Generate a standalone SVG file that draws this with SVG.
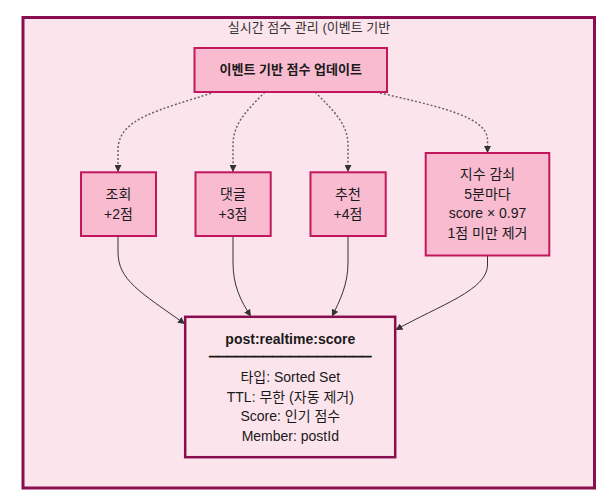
<svg xmlns="http://www.w3.org/2000/svg" width="616" height="502" viewBox="0 0 616 502">
<defs>
<marker id="arr" viewBox="0 0 10 10" refX="10" refY="5" markerWidth="7" markerHeight="7" markerUnits="userSpaceOnUse" orient="auto">
<path d="M0,0 L10,5 L0,10 z" fill="#333"/>
</marker>
<style>
.t{font-family:"Liberation Sans","Noto Sans CJK KR",sans-serif;font-size:14px;fill:#1a1a1a;text-anchor:middle}
.b{font-weight:bold}
.n{fill:#f8bbd0;stroke:#c2185b;stroke-width:2}
.d{fill:none;stroke:#666;stroke-width:1.5;stroke-dasharray:2 2}
.s{fill:none;stroke:#333;stroke-width:1}
</style>
</defs>
<rect width="616" height="502" fill="#fff"/>
<g id="frame">
<rect x="23" y="17.5" width="571.5" height="470.5" fill="#fce4ec" stroke="#880e4f" stroke-width="3"/>
<text class="t" x="309" y="32" style="fill:#333;font-size:13px">실시간 점수 관리 (이벤트 기반</text>
</g>
<g id="connectors">
<path class="d" d="M215,92 C160,110 118,118 118,150 L118,172" marker-end="url(#arr)"/>
<path class="d" d="M265,92 C245,112 233,125 233,145 L233,172" marker-end="url(#arr)"/>
<path class="d" d="M315,92 C335,112 348,125 348,145 L348,172" marker-end="url(#arr)"/>
<path class="d" d="M376,92 C430,105 487.5,115 487.5,140 L487.5,153" marker-end="url(#arr)"/>
<path class="s" d="M118,236 L118,252 C118,280 140,292 185,324" marker-end="url(#arr)"/>
<path class="s" d="M233,236 L233,262 C233,285 240,300 251,316.5" marker-end="url(#arr)"/>
<path class="s" d="M348,236 L348,262 C348,285 340,300 332,316.5" marker-end="url(#arr)"/>
<path class="s" d="M487.5,256 L487.5,265 C487.5,290 440,305 395.5,330" marker-end="url(#arr)"/>
</g>
<g id="event">
<rect class="n" x="194.5" y="48" width="192.5" height="44"/>
<text class="t b" x="290.7" y="74" style="font-size:13px">이벤트 기반 점수 업데이트</text>
</g>
<g id="view">
<rect class="n" x="81" y="172.3" width="75" height="63.7"/>
<text class="t" x="118.5" y="199">조회</text>
<text class="t" x="118.5" y="219">+2점</text>
</g>
<g id="comment">
<rect class="n" x="195.5" y="172.3" width="75.2" height="63.7"/>
<text class="t" x="233" y="199">댓글</text>
<text class="t" x="233" y="219">+3점</text>
</g>
<g id="like">
<rect class="n" x="310.5" y="172.3" width="75.2" height="63.7"/>
<text class="t" x="348" y="199">추천</text>
<text class="t" x="348" y="219">+4점</text>
</g>
<g id="decay">
<rect class="n" x="425.7" y="153" width="123.6" height="102.5"/>
<text class="t" x="487.5" y="179">지수 감쇠</text>
<text class="t" x="487.5" y="198.7">5분마다</text>
<text class="t" x="487.5" y="218.4">score × 0.97</text>
<text class="t" x="487.5" y="238">1점 미만 제거</text>
</g>
<g id="redis">
<rect x="185.2" y="316.8" width="210" height="140.4" fill="#fce4ec" stroke="#880e4f" stroke-width="2.5"/>
<text class="t b" x="290.3" y="344">post:realtime:score</text>
<text class="t b" x="290.3" y="361" textLength="162" lengthAdjust="spacingAndGlyphs" style="stroke:#1a1a1a;stroke-width:0.8">──────────────────</text>
<text class="t" x="290.3" y="382">타입: Sorted Set</text>
<text class="t" x="290.3" y="402">TTL: 무한 (자동 제거)</text>
<text class="t" x="290.3" y="421">Score: 인기 점수</text>
<text class="t" x="290.3" y="441">Member: postId</text>
</g>
</svg>
